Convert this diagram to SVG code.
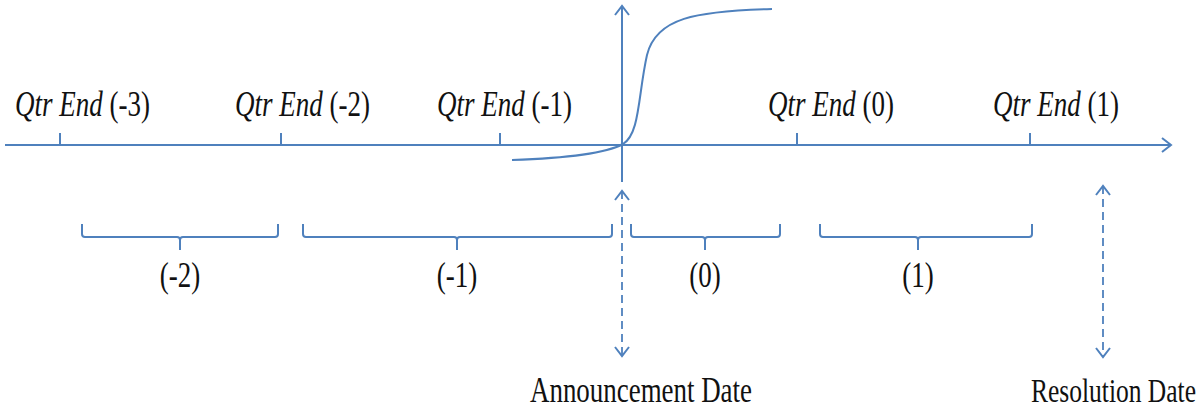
<svg xmlns="http://www.w3.org/2000/svg" width="1203" height="413" viewBox="0 0 1203 413">
<defs>
<style>
.ln{fill:none;stroke:#4F81BD;stroke-width:2}
.dash{fill:none;stroke:#4F81BD;stroke-width:1.8;stroke-dasharray:8,5}
.t{font-family:"Liberation Serif","Times New Roman",serif;font-size:27px;fill:#111}
.it{font-style:italic}
</style>
<marker id="ah" viewBox="-12 -8 14 16" markerWidth="14" markerHeight="16" refX="0" refY="0" orient="auto-start-reverse" markerUnits="userSpaceOnUse">
<path d="M-9,-7 L0,0 L-9,7" fill="none" stroke="#4F81BD" stroke-width="2"/>
</marker>
</defs>
<rect width="1203" height="413" fill="#fff"/>
<g id="connectors">
<line class="ln" x1="5" y1="145" x2="1171" y2="145" marker-end="url(#ah)"/>
<line class="ln" x1="622" y1="182" x2="622" y2="6" marker-end="url(#ah)"/>
<path class="ln" d="M512,160 C575,158 608,152 623,144 C640,134 638,95 647,55 C656,18 695,11 772,9"/>
<line class="ln" x1="60" y1="133" x2="60" y2="145"/>
<line class="ln" x1="281" y1="133" x2="281" y2="145"/>
<line class="ln" x1="500" y1="133" x2="500" y2="145"/>
<line class="ln" x1="797" y1="133" x2="797" y2="145"/>
<line class="ln" x1="1030" y1="133" x2="1030" y2="145"/>
<line class="dash" x1="622" y1="191" x2="622" y2="356" marker-start="url(#ah)" marker-end="url(#ah)"/>
<line class="dash" x1="1103" y1="186" x2="1103" y2="357" marker-start="url(#ah)" marker-end="url(#ah)"/>
</g>
<g id="brace-m2"><path class="ln" d="M82,224 v10 q0,3 3,3 h92 q3,0 3,3 v10 M180,240 q0,-3 3,-3 h92 q3,0 3,-3 v-10"/></g>
<g id="brace-m1"><path class="ln" d="M303,224 v10 q0,3 3,3 h148 q3,0 3,3 v10 M457,240 q0,-3 3,-3 h149 q3,0 3,-3 v-10"/></g>
<g id="brace-0"><path class="ln" d="M631,224 v10 q0,3 3,3 h68 q3,0 3,3 v10 M705,240 q0,-3 3,-3 h69 q3,0 3,-3 v-10"/></g>
<g id="brace-1"><path class="ln" d="M820,224 v10 q0,3 3,3 h92 q3,0 3,3 v10 M918,240 q0,-3 3,-3 h108 q3,0 3,-3 v-10"/></g>
<g id="labels">
<text class="t" transform="translate(15,116) scale(1,1.3)"><tspan class="it">Qtr End</tspan> (-3)</text>
<text class="t" transform="translate(235,116) scale(1,1.3)"><tspan class="it">Qtr End</tspan> (-2)</text>
<text class="t" transform="translate(437,116) scale(1,1.3)"><tspan class="it">Qtr End</tspan> (-1)</text>
<text class="t" transform="translate(768,116) scale(1,1.3)"><tspan class="it">Qtr End</tspan> (0)</text>
<text class="t" transform="translate(993,116) scale(1,1.3)"><tspan class="it">Qtr End</tspan> (1)</text>
<text class="t" text-anchor="middle" transform="translate(180,287) scale(1,1.3)">(-2)</text>
<text class="t" text-anchor="middle" transform="translate(457,287) scale(1,1.3)">(-1)</text>
<text class="t" text-anchor="middle" transform="translate(705,287) scale(1,1.3)">(0)</text>
<text class="t" text-anchor="middle" transform="translate(918,287) scale(1,1.3)">(1)</text>
<text class="t" transform="translate(530,402) scale(1,1.3)" textLength="222" lengthAdjust="spacingAndGlyphs">Announcement Date</text>
<text class="t" style="font-size:25.5px" transform="translate(1031,402) scale(1,1.35)">Resolution Date</text>
</g>
</svg>
